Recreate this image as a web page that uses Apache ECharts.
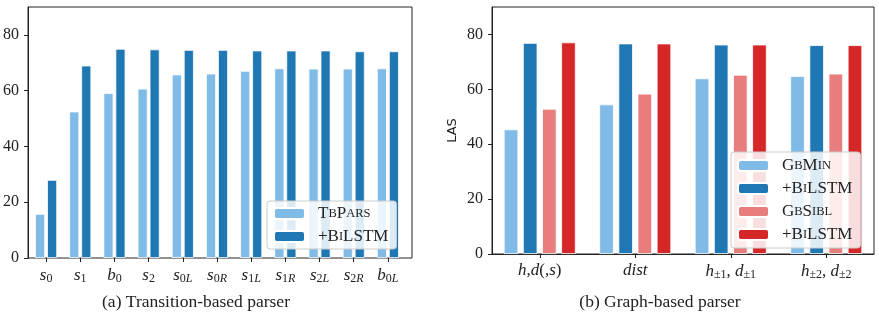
<!DOCTYPE html>
<html>
<head>
<meta charset="utf-8">
<script src="https://cdn.jsdelivr.net/npm/echarts@6/dist/echarts.min.js"></script>
<style>
  html, body { margin: 0; padding: 0; background: #fff; }
  #chart { width: 879px; height: 316px; }
</style>
</head>
<body>
<div id="chart"></div>
<script>
// (a) transition-based parser
const tbCats = ['s0', 's1', 'b0', 's2', 's0L', 's0R', 's1L', 's1R', 's2L', 's2R', 'b0L']
const tbPars = [15.8, 52.5, 59.1, 60.7, 65.8, 66.1, 67.1, 68.0, 67.9, 67.9, 68.0]
const tbBilstm = [28.0, 69.0, 75.0, 74.8, 74.6, 74.6, 74.4, 74.4, 74.4, 74.1, 74.1]

// (b) graph-based parser
const gbCats = ['h,d(,s)', 'dist', 'h±1, d±1', 'h±2, d±2']
const gbMin = [45.4, 54.5, 64.0, 64.8]
const gbMinBilstm = [76.9, 76.7, 76.3, 76.1]
const gbSibl = [52.9, 58.4, 65.3, 65.7]
const gbSiblBilstm = [77.1, 76.7, 76.3, 76.1]

const yTicks = [0, 20, 40, 60, 80]

const LIGHT_BLUE = '#80bbe8'
const DARK_BLUE = '#1f77b4'
const PINK = '#e87d7d'
const RED = '#d62728'
const SERIF = '"Liberation Serif", "DejaVu Serif", serif'

// legend names shown in small caps
const legendText = {
  tbPars: '{b|T}{s|B}{b|P}{s|ARS}',
  tbBilstm: '{b|+B}{s|I}{b|LSTM}',
  gbMin: '{b|G}{s|B}{b|M}{s|IN}',
  gbMinBilstm: '{b|+B}{s|I}{b|LSTM}',
  gbSibl: '{b|G}{s|B}{b|S}{s|IBL}',
  gbSiblBilstm: '{b|+B}{s|I}{b|LSTM}'
}

function tbLabel(name) {
  let out = '{i|' + name[0] + '}'
  for (const c of name.slice(1)) {
    out += /[0-9]/.test(c) ? '{sn|' + c + '}' : '{si|' + c + '}'
  }
  return out
}

function gbLabel(name) {
  let out = ''
  for (const c of name) {
    if (/[a-z]/.test(c)) out += '{i|' + c + '}'
    else if (c === '±' || /[0-9]/.test(c)) out += '{sn|' + c + '}'
    else out += '{t|' + c + '}'
  }
  return out
}

const mathRich = {
  i: { fontFamily: SERIF, fontStyle: 'italic', fontSize: 17, color: '#222' },
  t: { fontFamily: SERIF, fontSize: 17, color: '#222' },
  sn: { fontFamily: SERIF, fontSize: 12, color: '#222', padding: [7, 0, 0, 0] },
  si: { fontFamily: SERIF, fontStyle: 'italic', fontSize: 12, color: '#222', padding: [7, 0, 0, 0] }
}

const legendRich = {
  b: { fontFamily: SERIF, fontSize: 17, color: '#222' },
  s: { fontFamily: SERIF, fontSize: 12.5, color: '#222' }
}

const chart = echarts.init(document.getElementById('chart'), null, { renderer: 'canvas' })

function yAxisFor(gridIndex, extra) {
  return Object.assign({
    type: 'value',
    gridIndex: gridIndex,
    min: 0,
    max: 90,
    interval: 20,
    splitLine: { show: false },
    axisLine: { show: true, lineStyle: { color: '#222', width: 1 } },
    axisTick: { show: true, length: 4, lineStyle: { color: '#222' } },
    axisLabel: {
      margin: 9,
      fontFamily: SERIF,
      fontSize: 16,
      color: '#222',
      showMaxLabel: false,
      formatter: v => (yTicks.includes(v) ? String(v) : '')
    }
  }, extra || {})
}

function xAxisFor(gridIndex, cats, fmt, showLine) {
  return {
    type: 'category',
    gridIndex: gridIndex,
    data: cats,
    axisLine: { show: showLine, lineStyle: { color: '#222', width: 1 } },
    axisTick: { show: true, alignWithLabel: true, length: 4, lineStyle: { color: '#222' } },
    axisLabel: { margin: 8, formatter: fmt, rich: mathRich, interval: 0 }
  }
}

function barSeries(name, data, color, xi, yi, width, gap) {
  return {
    name: name,
    type: 'bar',
    xAxisIndex: xi,
    yAxisIndex: yi,
    data: data,
    barWidth: width,
    barGap: gap,
    itemStyle: { color: color, borderColor: '#fff', borderWidth: 0.8 },
    emphasis: { disabled: true }
  }
}

function legendFor(names, left, top, gap, pad) {
  return {
    data: names,
    orient: 'vertical',
    left: left,
    top: top,
    itemWidth: 31,
    itemHeight: 11,
    itemGap: gap,
    padding: pad,
    backgroundColor: 'rgba(255,255,255,0.85)',
    borderColor: '#ccc',
    borderWidth: 1,
    borderRadius: 3,
    selectedMode: false,
    formatter: n => legendText[n],
    textStyle: { rich: legendRich, lineHeight: 16, padding: [0, 0, 0, 8] }
  }
}

chart.setOption({
  animation: false,
  backgroundColor: '#fff',
  grid: [
    // frame + y axis of (a)
    { left: 25, right: 467, top: 7, bottom: 58, show: true, borderColor: '#222', borderWidth: 1 },
    // bars of (a), slightly inset like matplotlib margins
    { left: 29, right: 474, top: 7, bottom: 58 },
    // (b)
    { left: 492, right: 5, top: 7, bottom: 62, show: true, borderColor: '#222', borderWidth: 1 }
  ],
  xAxis: [
    { type: 'value', gridIndex: 0, show: false },
    xAxisFor(1, tbCats, tbLabel, false),
    xAxisFor(2, gbCats, gbLabel, true)
  ],
  yAxis: [
    yAxisFor(0),
    yAxisFor(1, { show: false }),
    yAxisFor(2, {
      name: 'LAS',
      nameLocation: 'middle',
      nameGap: 33,
      nameTextStyle: { fontFamily: '"DejaVu Sans", sans-serif', fontSize: 13, color: '#222' }
    })
  ],
  legend: [
    legendFor(['tbPars', 'tbBilstm'], 267, 201, 6, [4, 8, 4, 6]),
    legendFor(['gbMin', 'gbMinBilstm', 'gbSibl', 'gbSiblBilstm'], 731, 152, 6, [5, 8, 5, 6])
  ],
  series: [
    barSeries('tbPars', tbPars, LIGHT_BLUE, 1, 1, 10, '20%'),
    barSeries('tbBilstm', tbBilstm, DARK_BLUE, 1, 1, 10, '20%'),
    barSeries('gbMin', gbMin, LIGHT_BLUE, 2, 2, 14.5, '32%'),
    barSeries('gbMinBilstm', gbMinBilstm, DARK_BLUE, 2, 2, 14.5, '32%'),
    barSeries('gbSibl', gbSibl, PINK, 2, 2, 14.5, '32%'),
    barSeries('gbSiblBilstm', gbSiblBilstm, RED, 2, 2, 14.5, '32%')
  ],
  graphic: [
    {
      type: 'text',
      x: 196, y: 302,
      style: { text: '(a) Transition-based parser', font: '17.5px ' + SERIF, fill: '#222', align: 'center', verticalAlign: 'middle' }
    },
    {
      type: 'text',
      x: 660, y: 302,
      style: { text: '(b) Graph-based parser', font: '17.5px ' + SERIF, fill: '#222', align: 'center', verticalAlign: 'middle' }
    }
  ]
})
</script>
</body>
</html>
